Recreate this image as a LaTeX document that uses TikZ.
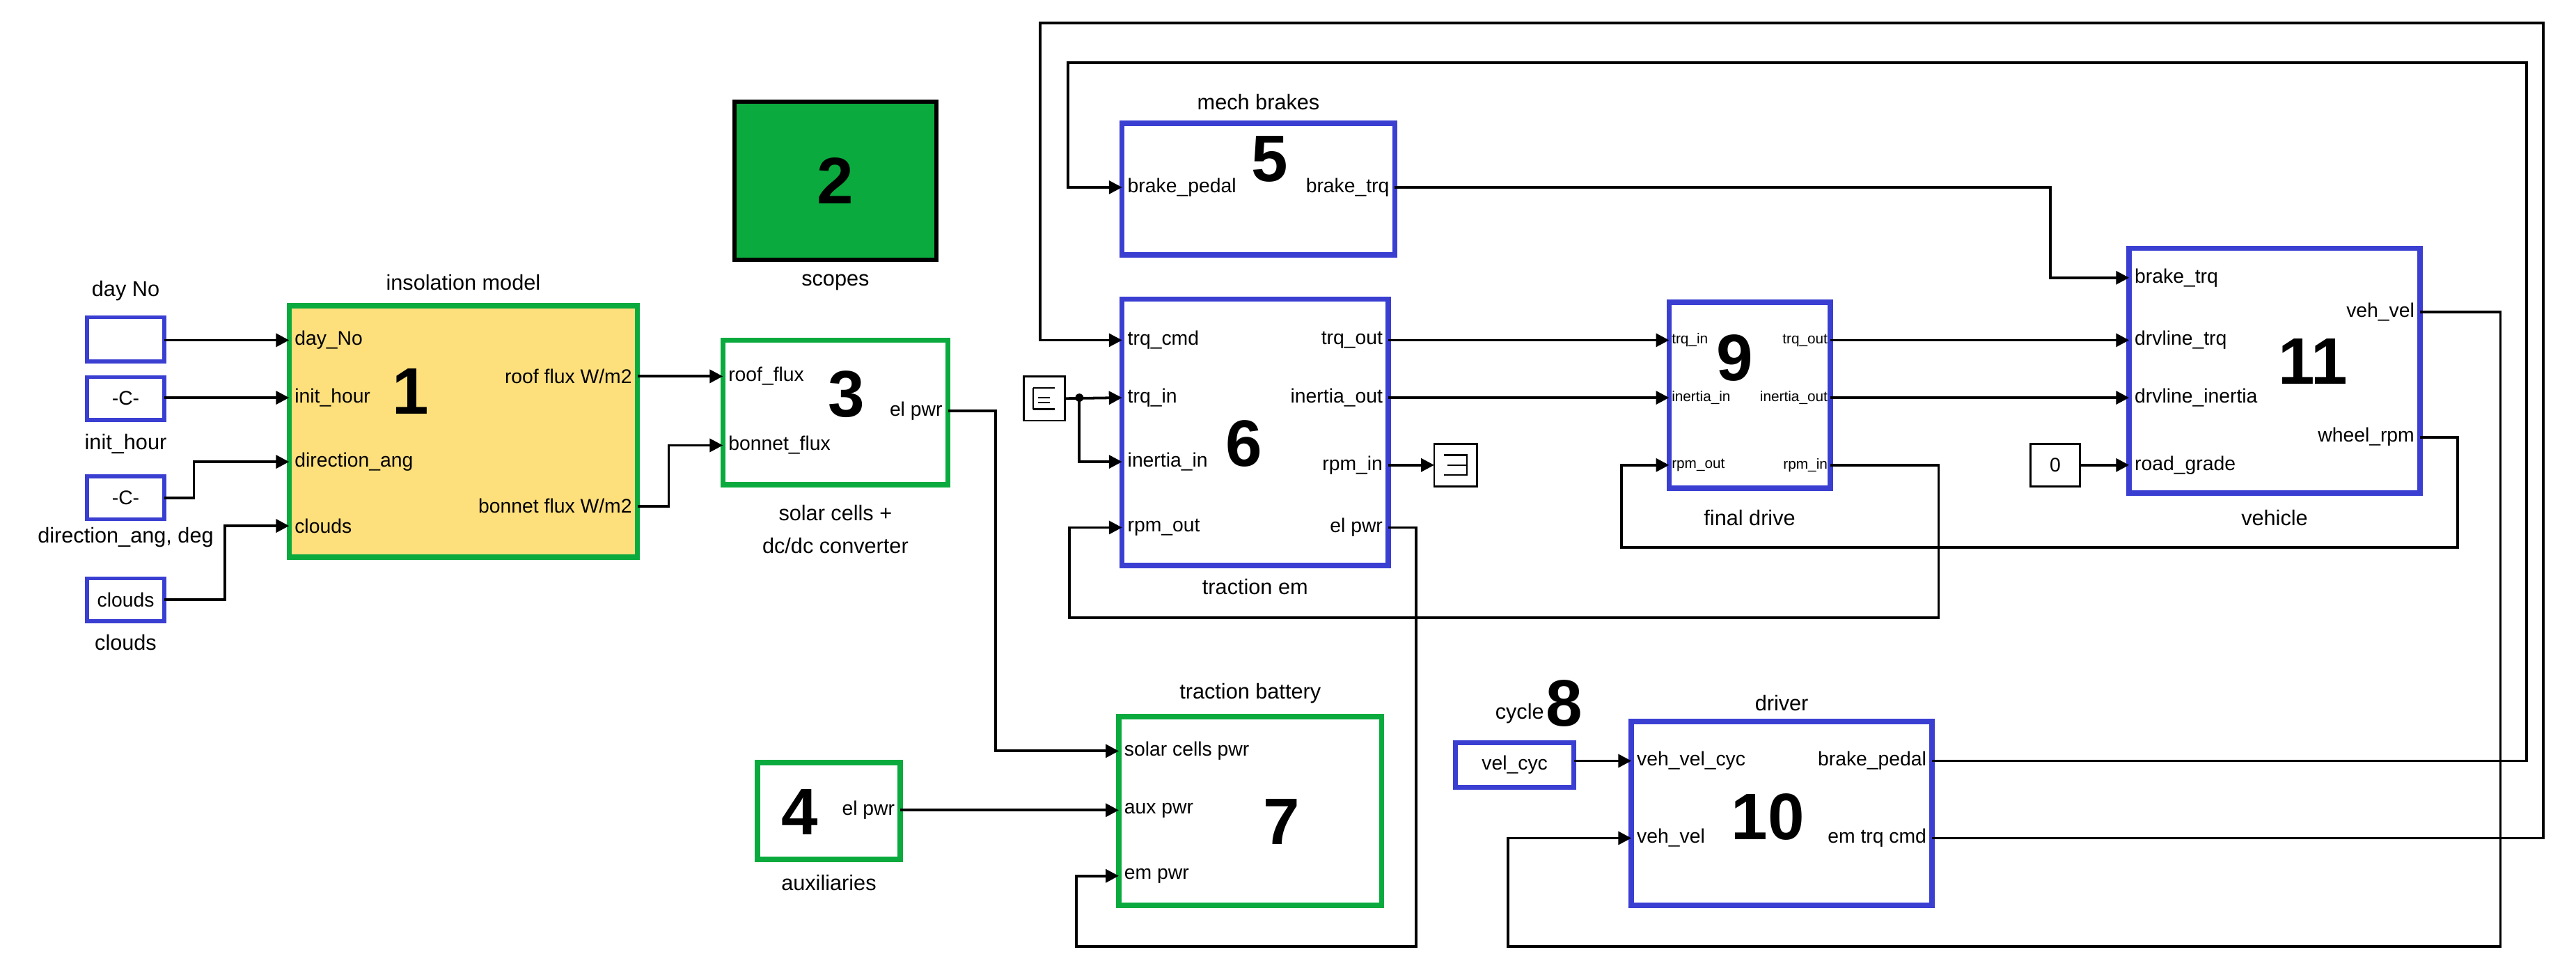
\documentclass[tikz,border=0pt]{standalone}
\usepackage{fontspec}
\setmainfont{Liberation Sans}
\usetikzlibrary{arrows.meta}
\definecolor{gr}{HTML}{0BAA3E}
\definecolor{bl}{HTML}{3A3FD2}
\definecolor{yl}{HTML}{FDDF7C}
\begin{document}
\begin{tikzpicture}[x=0.5pt,y=-0.5pt,
  blk/.style={draw=bl,line width=1.6pt,inner sep=0,outer sep=0},
  gblk/.style={draw=gr,line width=1.6pt,inner sep=0,outer sep=0},
  sblk/.style={draw=bl,line width=1.2pt,inner sep=0,outer sep=0},
  pl/.style={font=\fontsize{6}{7}\selectfont,inner sep=1.5pt},
  spl/.style={font=\fontsize{4.4}{5}\selectfont,inner sep=0.6pt},
  tl/.style={font=\fontsize{6.5}{8}\selectfont,inner sep=0},
  num/.style={font=\fontsize{20}{20}\selectfont\bfseries,inner sep=0},
  w/.style={line width=0.8pt,-{Triangle[length=4pt,width=4pt]}},
  ln/.style={line width=0.8pt}]
\useasboundingbox (0,0) rectangle (1568,593);
% blocks
\node[gblk,fill=yl,minimum width=106pt,minimum height=76.5pt] (b1) at (282,262.5) {};
\node[draw=black,line width=1.2pt,fill=gr,minimum width=61.5pt,minimum height=48pt,inner sep=0,outer sep=0] (b2) at (508.5,110) {};
\node[gblk,minimum width=68.5pt,minimum height=44pt] (b3) at (508.5,251) {};
\node[gblk,minimum width=43.5pt,minimum height=29.5pt] (b4) at (504.5,493.5) {};
\node[blk,minimum width=83pt,minimum height=40pt] (b5) at (766,115) {};
\node[blk,minimum width=81pt,minimum height=81pt] (b6) at (764,263) {};
\node[gblk,minimum width=80pt,minimum height=57.5pt] (b7) at (761,493.5) {};
\node[blk,minimum width=36pt,minimum height=13.5pt] (b8) at (922,465.5) {};
\node[blk,minimum width=49pt,minimum height=56.5pt] (b9) at (1065,240.5) {};
\node[blk,minimum width=91.5pt,minimum height=56pt] (b10) at (1084.5,495) {};
\node[blk,minimum width=88.5pt,minimum height=74.5pt] (b11) at (1384.5,225.5) {};
\node[draw=black,line width=0.6pt,minimum width=15pt,minimum height=13pt,inner sep=0,outer sep=0,font=\fontsize{6}{7}\selectfont] (c0) at (1251,283) {0};
\node[sblk,minimum width=23.5pt,minimum height=13.5pt] (day) at (76.5,206.5) {};
\node[sblk,minimum width=23.5pt,minimum height=13pt,font=\fontsize{6}{7}\selectfont] (ini) at (76.5,242.5) {-C-};
\node[sblk,minimum width=23.5pt,minimum height=13pt,font=\fontsize{6}{7}\selectfont] (dir) at (76.5,303) {-C-};
\node[sblk,minimum width=23.5pt,minimum height=13pt,font=\fontsize{6}{7}\selectfont] (clo) at (76.5,365) {clouds};
\node[draw=black,line width=0.6pt,minimum width=12.5pt,minimum height=13.5pt,inner sep=0,outer sep=0] (gnd) at (635.5,242.5) {};
\draw[line width=0.5pt] (629,236)--(642,236) (629,236)--(629,249) (629,249)--(642,249) (632,242)--(639,242) (632,245)--(639,245);
\node[draw=black,line width=0.6pt,minimum width=13pt,minimum height=13pt,inner sep=0,outer sep=0] (trm) at (886,283) {};
\draw[line width=0.5pt] (879,277)--(893,277)--(893,289)--(879,289) (881,283)--(893,283);
% titles
\node[tl] at (76.5,177) {day No};
\node[tl] at (76.5,270) {init\_hour};
\node[tl] at (76.5,327) {direction\_ang, deg};
\node[tl] at (76.5,391) {clouds};
\node[tl] at (282,172) {insolation model};
\node[tl] at (508.5,172) {scopes};
\node[tl,align=center] at (508.5,322) {solar cells +\\[2pt]dc/dc converter};
\node[tl] at (504.5,537) {auxiliaries};
\node[tl] at (766,62) {mech brakes};
\node[tl] at (764,357) {traction em};
\node[tl] at (761,422) {traction battery};
\node[tl] at (1065,315) {final drive};
\node[tl] at (1384.5,315) {vehicle};
\node[tl] at (1084.5,428) {driver};
\node[tl] at (925,434) {cycle};
\node[font=\fontsize{6}{7}\selectfont] at (922,465.5) {vel\_cyc};
% numbers
\node[num] at (250,238) {1};
\node[num] at (508.5,110) {2};
\node[num] at (515,240) {3};
\node[num] at (487,494) {4};
\node[num] at (773,97) {5};
\node[num] at (757,270) {6};
\node[num] at (780,500) {7};
\node[num] at (952,428) {8};
\node[num] at (1056,218) {9};
\node[num] at (1076,497) {10};
\node[num] at (1408,220) {11};
% port labels
\foreach \y/\t in {207/day\_No,242/init\_hour,281/direction\_ang,320/clouds}
  \node[pl,anchor=west] at (b1.west|-0,\y) {\t};
\node[pl,anchor=east] at (b1.east|-0,229) {roof\ flux W/m2};
\node[pl,anchor=east] at (b1.east|-0,308) {bonnet flux W/m2};
\node[pl,anchor=west] at (b3.west|-0,229) {roof\_flux};
\node[pl,anchor=west] at (b3.west|-0,271) {bonnet\_flux};
\node[pl,anchor=east] at (b3.east|-0,250) {el pwr};
\node[pl,anchor=east] at (b4.east|-0,493) {el pwr};
\node[pl,anchor=west] at (b5.west|-0,114) {brake\_pedal};
\node[pl,anchor=east] at (b5.east|-0,114) {brake\_trq};
\foreach \y/\t in {207/trq\_cmd,242/trq\_in,281/inertia\_in,321/rpm\_out}
  \node[pl,anchor=west] at (b6.west|-0,\y) {\t};
\foreach \y/\t in {207/trq\_out,242/inertia\_out,283/rpm\_in,321/el pwr}
  \node[pl,anchor=east] at (b6.east|-0,\y) {\t};
\foreach \y/\t in {457/solar cells pwr,493/aux pwr,533/em pwr}
  \node[pl,anchor=west] at (b7.west|-0,\y) {\t};
\foreach \y/\t in {207/trq\_in,242/inertia\_in,283/rpm\_out}
  \node[spl,anchor=west] at (b9.west|-0,\y) {\t};
\foreach \y/\t in {207/trq\_out,242/inertia\_out,283/rpm\_in}
  \node[spl,anchor=east] at (b9.east|-0,\y) {\t};
\foreach \y/\t in {169/brake\_trq,207/drvline\_trq,242/drvline\_inertia,283/road\_grade}
  \node[pl,anchor=west] at (b11.west|-0,\y) {\t};
\node[pl,anchor=east] at (b11.east|-0,190) {veh\_vel};
\node[pl,anchor=east] at (b11.east|-0,266) {wheel\_rpm};
\node[pl,anchor=west] at (b10.west|-0,463) {veh\_vel\_cyc};
\node[pl,anchor=west] at (b10.west|-0,510) {veh\_vel};
\node[pl,anchor=east] at (b10.east|-0,463) {brake\_pedal};
\node[pl,anchor=east] at (b10.east|-0,510) {em trq cmd};
% connectors
\draw[w] (day.east|-0,207) -- (b1.west|-0,207);
\draw[w] (ini.east|-0,242) -- (b1.west|-0,242);
\draw[w] (dir.east) -- (118,303) -- (118,281) -- (b1.west|-0,281);
\draw[w] (clo.east) -- (137,365) -- (137,320) -- (b1.west|-0,320);
\draw[w] (b1.east|-0,229) -- (b3.west|-0,229);
\draw[w] (b1.east|-0,308) -- (407,308) -- (407,271) -- (b3.west|-0,271);
\draw[w] (b3.east|-0,250) -- (606,250) -- (606,457) -- (b7.west|-0,457);
\draw[w] (b4.east|-0,493) -- (b7.west|-0,493);
\draw[w] (b6.east|-0,321) -- (862,321) -- (862,576) -- (655,576) -- (655,533) -- (b7.west|-0,533);
\draw[w] (gnd.east) -- (b6.west|-0,242);
\fill (657,242) circle (2.5);
\draw[w] (657,242) -- (657,281) -- (b6.west|-0,281);
\draw[w] (b6.east|-0,283) -- (trm.west);
\draw[w] (b6.east|-0,207) -- (b9.west|-0,207);
\draw[w] (b6.east|-0,242) -- (b9.west|-0,242);
\draw[w] (b9.east|-0,207) -- (b11.west|-0,207);
\draw[w] (b9.east|-0,242) -- (b11.west|-0,242);
\draw[w] (c0.east) -- (b11.west|-0,283);
\draw[w] (b5.east|-0,114) -- (1248,114) -- (1248,169) -- (b11.west|-0,169);
\draw[w] (b9.east|-0,283) -- (1180,283) -- (1180,376) -- (651,376) -- (651,321) -- (b6.west|-0,321);
\draw[w] (b11.east|-0,266) -- (1496,266) -- (1496,333) -- (987,333) -- (987,283) -- (b9.west|-0,283);
\draw[w] (b11.east|-0,190) -- (1522,190) -- (1522,576) -- (918,576) -- (918,510) -- (b10.west|-0,510);
\draw[w] (b8.east|-0,463) -- (b10.west|-0,463);
\draw[w] (b10.east|-0,510) -- (1548,510) -- (1548,14) -- (633,14) -- (633,207) -- (b6.west|-0,207);
\draw[w] (b10.east|-0,463) -- (1538,463) -- (1538,38) -- (650,38) -- (650,114) -- (b5.west|-0,114);
\end{tikzpicture}
\end{document}
